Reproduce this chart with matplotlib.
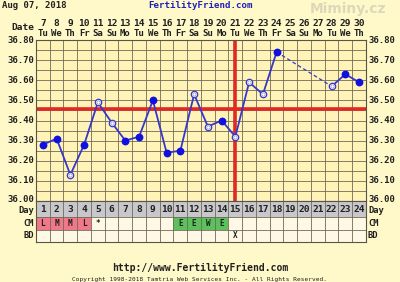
import matplotlib
matplotlib.use("Agg")
import matplotlib.pyplot as plt
import numpy as np
from matplotlib.patches import Rectangle

# ---- data ----
cycle_days = list(range(1, 25))
dates = list(range(7, 31))
weekdays = ["Tu", "We", "Th", "Fr", "Sa", "Su", "Mo", "Tu", "We", "Th", "Fr", "Sa",
            "Su", "Mo", "Tu", "We", "Th", "Fr", "Sa", "Su", "Mo", "Tu", "We", "Th"]
temps = [36.28, 36.31, 36.13, 36.28, 36.49, 36.39, 36.30, 36.32, 36.50, 36.24,
         36.25, 36.53, 36.37, 36.40, 36.32, 36.59, 36.53, 36.74, None, None,
         None, 36.57, 36.63, 36.59]
open_marker = [False, False, True, False, True, True, False, False, False, False,
               False, True, True, False, True, True, True, False, False, False,
               False, True, False, False]
cm = ["L", "M", "M", "L", "*", "", "", "", "", "", "E", "E", "W", "E",
      "", "", "", "", "", "", "", "", "", ""]
bd = ["", "", "", "", "", "", "", "", "", "", "", "", "", "", "X",
      "", "", "", "", "", "", "", "", ""]
coverline = 36.455
ovulation_day = 15
ytick_vals = [36.00, 36.10, 36.20, 36.30, 36.40, 36.50, 36.60, 36.70, 36.80]

W, H = 400, 282
BG = "#FFF8C8"
PLOT_BG = "#FFF3B8"
GRID = "#6e6a58"
BLUE = "#3838C8"
MARK = "#1010E0"
RED = "#E02828"
FONT = "DejaVu Sans Mono"

fig = plt.figure(figsize=(W / 100, H / 100), dpi=100, facecolor=BG)

L, R = 36, 366
T_top, T_bot = 40, 201
tab_bot = 242

def fx(px):
    return px / W

def fy(py):
    return 1 - py / H

ax = fig.add_axes([fx(L), fy(T_bot), fx(R - L), fy(T_top) - fy(T_bot)])
ax.set_facecolor(PLOT_BG)
ax.set_xlim(0.5, 24.5)
ax.set_ylim(36.0, 36.8)
ax.set_xticks([])
ax.set_yticks([])
for s in ax.spines.values():
    s.set_color("#555548")
    s.set_linewidth(0.8)

for xv in np.arange(1.5, 24.5, 1.0):
    ax.axvline(xv, color=GRID, lw=0.6, zorder=1)
for yv in np.arange(36.05, 36.8, 0.05):
    ax.axhline(yv, color=GRID, lw=0.6, zorder=1)

ax.axhline(coverline, color=RED, lw=2.6, zorder=2)
ax.axvline(ovulation_day, color=RED, lw=2.6, zorder=2)

# solid segments
seg_x, seg_y = [], []
segments = []
for d, t in zip(cycle_days, temps):
    if t is None:
        if seg_x:
            segments.append((seg_x, seg_y))
        seg_x, seg_y = [], []
    else:
        seg_x.append(d)
        seg_y.append(t)
if seg_x:
    segments.append((seg_x, seg_y))
for sx, sy in segments:
    ax.plot(sx, sy, color=BLUE, lw=1.3, zorder=3)
# dashed gap bridge
for i in range(len(segments) - 1):
    a = segments[i]
    b = segments[i + 1]
    ax.plot([a[0][-1], b[0][0]], [a[1][-1], b[1][0]], color=BLUE, lw=0.9,
            ls=(0, (3, 2)), zorder=3)

for d, t, o in zip(cycle_days, temps, open_marker):
    if t is None:
        continue
    if o:
        ax.plot(d, t, "o", ms=4.6, mfc="white", mec=BLUE, mew=0.9, zorder=4)
        ax.plot(d, t, "o", ms=2.4, mfc="none", mec="#9090c0", mew=0.5, zorder=5)
    else:
        ax.plot(d, t, "o", ms=4.6, mfc=MARK, mec=MARK, zorder=4)

# ---- table ----
tab = fig.add_axes([fx(L), fy(tab_bot), fx(R - L), fy(T_bot) - fy(tab_bot)])
tab.set_xlim(0.5, 24.5)
tab.set_ylim(0, 3)
tab.invert_yaxis()
tab.set_xticks([])
tab.set_yticks([])
for s in tab.spines.values():
    s.set_color("#555548")
    s.set_linewidth(0.8)
tab.set_facecolor("#FFF8E4")
for i, d in enumerate(cycle_days):
    x0 = d - 0.5
    tab.add_patch(Rectangle((x0, 0), 1, 1.15, facecolor="#C8C8CC", edgecolor="none"))
    c = cm[i]
    col = None
    if c in ("L", "M", "H"):
        col = "#F07888"
    elif c in ("E", "W"):
        col = "#5CC05C"
    if col:
        tab.add_patch(Rectangle((x0, 1.15), 1, 0.95, facecolor=col, edgecolor="none"))
    tab.text(d, 0.62, str(d), ha="center", va="center", fontsize=6.8,
             family=FONT, weight="bold", color="#202020")
    if c:
        tab.text(d, 1.62, c, ha="center", va="center", fontsize=5.5,
                 family=FONT, weight="bold", color="#202020")
    if bd[i]:
        tab.text(d, 2.55, bd[i], ha="center", va="center", fontsize=5.5,
                 family=FONT, weight="bold", color="#202020")
for xv in np.arange(1.5, 24.5, 1.0):
    tab.axvline(xv, color=GRID, lw=0.6)
for yv in (1.15, 2.1):
    tab.axhline(yv, color=GRID, lw=0.6)

# ---- labels ----
for v in ytick_vals:
    py = T_bot - (v - 36.0) / 0.8 * (T_bot - T_top)
    if v == 36.0:
        py -= 1.5
    fig.text(fx(L - 2), fy(py), f"{v:.2f}", ha="right", va="center",
             fontsize=6.5, family=FONT, weight="bold", color="#202020")
    fig.text(fx(R + 2), fy(py), f"{v:.2f}", ha="left", va="center",
             fontsize=6.5, family=FONT, weight="bold", color="#202020")

row_centers = [210.5, 224, 236]
for name, py in zip(["Day", "CM", "BD"], row_centers):
    fig.text(fx(L - 2), fy(py), name, ha="right", va="center", fontsize=6.3,
             family=FONT, weight="bold", color="#202020")
    fig.text(fx(R + 2), fy(py), name, ha="left", va="center", fontsize=6.3,
             family=FONT, weight="bold", color="#202020")

colw = (R - L) / 24
for i, (dn, wd) in enumerate(zip(dates, weekdays)):
    px = L + colw * (i + 0.5)
    fig.text(fx(px), fy(23), str(dn), ha="center", va="center", fontsize=6.8,
             family=FONT, weight="bold", color="#202020")
    fig.text(fx(px), fy(33), wd, ha="center", va="center", fontsize=6.5,
             family=FONT, weight="bold", color="#202020")
fig.text(fx(L - 2), fy(28), "Date", ha="right", va="center", fontsize=6.8,
         family=FONT, weight="bold", color="#202020")

fig.text(fx(2), fy(6), "Aug 07, 2018", ha="left", va="center", fontsize=6.5,
         family=FONT, weight="bold", color="#202020")
fig.text(fx(201), fy(6), "FertilityFriend.com", ha="center", va="center",
         fontsize=6.6, family=FONT, weight="bold", color="#2020C0")
fig.text(fx(348), fy(9), "Miminy.cz", ha="center", va="center", fontsize=10,
         family="DejaVu Sans", weight="bold", color="#909090", alpha=0.3)

fig.text(fx(200), fy(268), "http://www.FertilityFriend.com", ha="center",
         va="center", fontsize=7, family=FONT, weight="bold", color="#202020")
fig.text(fx(200), fy(279), "Copyright 1998-2018 Tamtria Web Services Inc. - All Rights Reserved.",
         ha="center", va="center", fontsize=4.4, family=FONT, color="#202020")

fig.savefig("out.png", dpi=100, facecolor=BG)
